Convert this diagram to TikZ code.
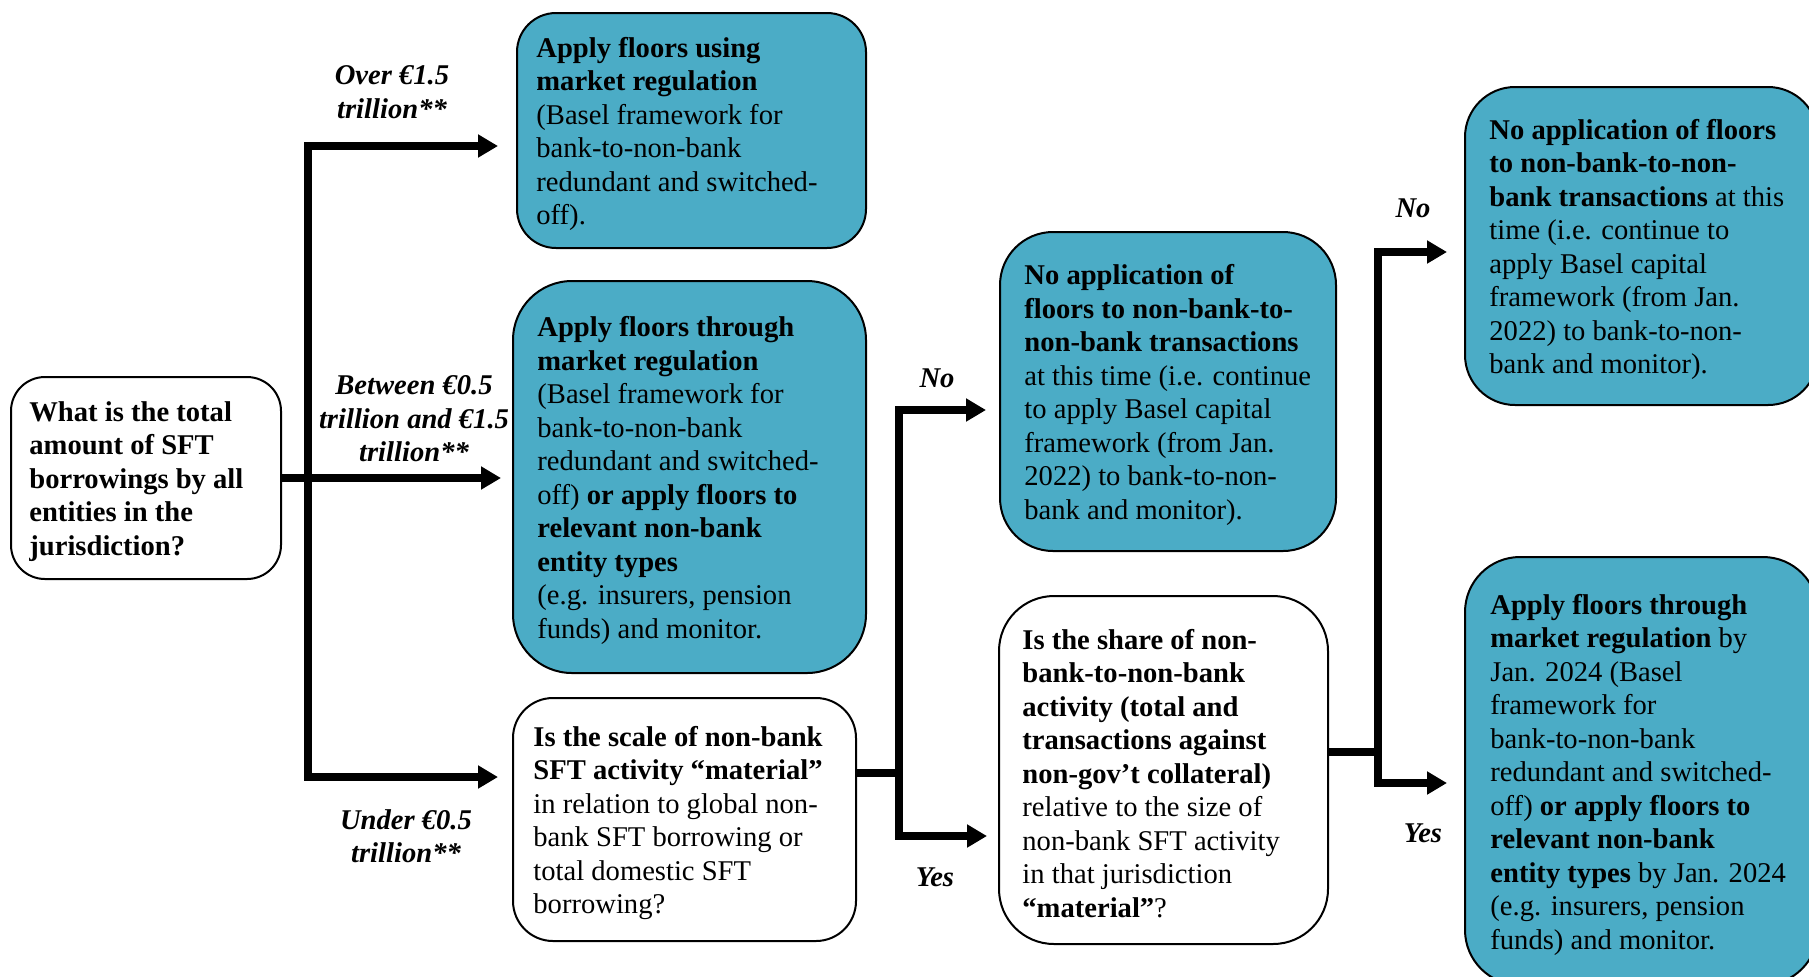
\documentclass[tikz,border=0pt]{standalone}
\usepackage{fontspec}
\setmainfont{Liberation Serif}
\usetikzlibrary{arrows.meta}
\definecolor{boxblue}{RGB}{75,172,198}
\begin{document}
\begin{tikzpicture}[x=0.5pt,y=-0.5pt,
  box/.style={draw=black, line width=1pt, rectangle, inner sep=0pt},
  bluebox/.style={box, fill=boxblue},
  whitebox/.style={box, fill=white},
  txt/.style={anchor=west, align=left, inner sep=0pt, yshift=-1.8pt, font=\fontsize{14.3}{16.75}\selectfont},
  lbl/.style={align=center, inner sep=0pt, font=\fontsize{14.3}{16.75}\selectfont\bfseries\itshape},
  conn/.style={line width=4pt, line join=miter, -{Triangle[length=10pt,width=11pt]}},
  plainline/.style={line width=4pt},
]
\useasboundingbox (0,0) rectangle (1809,976);
\fill[white] (0,0) rectangle (1809,976);
\clip (0,0) rectangle (1809,976);

% boxes
\node[whitebox, minimum width=135pt, minimum height=101pt, rounded corners=17pt] (a) at (146,478) {};
\node[bluebox, minimum width=174.5pt, minimum height=117.5pt, rounded corners=19.5pt] (b1) at (691.5,130.5) {};
\node[bluebox, minimum width=176.5pt, minimum height=196pt, rounded corners=29.5pt] (b2) at (689.5,477) {};
\node[whitebox, minimum width=171.5pt, minimum height=121.5pt, rounded corners=20pt] (b3) at (684.5,819.5) {};
\node[bluebox, minimum width=168pt, minimum height=159.5pt, rounded corners=26.5pt] (c1) at (1168,391.5) {};
\node[whitebox, minimum width=164.5pt, minimum height=174pt, rounded corners=27.5pt] (c2) at (1163.5,770) {};
\node[bluebox, minimum width=176.5pt, minimum height=159pt, rounded corners=25pt] (d1) at (1641.5,246) {};
\node[bluebox, minimum width=176.5pt, minimum height=214pt, rounded corners=27.5pt] (d2) at (1641.5,771) {};

% texts
\node[txt] (at) at ([xshift=9.5pt]a.west) {\textbf{What is the total}\\\textbf{amount of SFT}\\\textbf{borrowings by all}\\\textbf{entities in the}\\\textbf{jurisdiction?}};
\node[txt] (b1t) at ([xshift=10pt]b1.west) {\textbf{Apply floors using}\\\textbf{market regulation}\\(Basel framework for\\bank-to-non-bank\\redundant and switched-\\off).};
\node[txt] (b2t) at ([xshift=12.5pt]b2.west) {\textbf{Apply floors through}\\\textbf{market regulation}\\(Basel framework for\\bank-to-non-bank\\redundant and switched-\\off) \textbf{or apply floors to}\\\textbf{relevant non-bank}\\\textbf{entity types}\\(e.g. insurers, pension\\funds) and monitor.};
\node[txt] (b3t) at ([xshift=10.5pt]b3.west) {\textbf{Is the scale of non-bank}\\\textbf{SFT activity “material”}\\in relation to global non-\\bank SFT borrowing or\\total domestic SFT\\borrowing?};
\node[txt] (c1t) at ([xshift=12.5pt]c1.west) {\textbf{No application of}\\\textbf{floors to non-bank-to-}\\\textbf{non-bank transactions}\\at this time (i.e. continue\\to apply Basel capital\\framework (from Jan.\\2022) to bank-to-non-\\bank and monitor).};
\node[txt] (c2t) at ([xshift=12pt]c2.west) {\textbf{Is the share of non-}\\\textbf{bank-to-non-bank}\\\textbf{activity (total and}\\\textbf{transactions against}\\\textbf{non-gov’t collateral)}\\relative to the size of\\non-bank SFT activity\\in that jurisdiction\\\textbf{“material”}?};
\node[txt] (d1t) at ([xshift=12.5pt]d1.west) {\textbf{No application of floors}\\\textbf{to non-bank-to-non-}\\\textbf{bank transactions} at this\\time (i.e. continue to\\apply Basel capital\\framework (from Jan.\\2022) to bank-to-non-\\bank and monitor).};
\node[txt] (d2t) at ([xshift=13pt]d2.west) {\textbf{Apply floors through}\\\textbf{market regulation} by\\Jan. 2024 (Basel\\framework for\\bank-to-non-bank\\redundant and switched-\\off) \textbf{or apply floors to}\\\textbf{relevant non-bank}\\\textbf{entity types} by Jan. 2024\\(e.g. insurers, pension\\funds) and monitor.};

% junction coordinates
\coordinate (j1top) at (308,146);
\coordinate (j1bot) at (308,777);
\coordinate (j2) at (899,773);
\coordinate (j2top) at (899,410);
\coordinate (j2bot) at (899,836);
\coordinate (j3) at (1378,752);
\coordinate (j3top) at (1378,252);
\coordinate (j3bot) at (1378,783);

% connectors, first split
\draw[conn, shorten >=9pt] (j1bot) -- (j1top) -- (j1top -| b1.west);
\draw[conn, shorten >=7pt] ([xshift=-2pt]j1bot) -- (j1bot -| b3.west);
\draw[conn, shorten >=5.5pt] (a.east) -- (a.east -| b2.west);

% second split
\draw[plainline] (b3.east |- j2) -- ([xshift=2pt]j2);
\draw[conn, shorten >=6.5pt] (j2bot) -- (j2top) -- (j2top -| c1.west);
\draw[conn, shorten >=5.5pt] ([xshift=-2pt]j2bot) -- (j2bot -| c2.west);

% third split
\draw[plainline] (c2.east |- j3) -- ([xshift=2pt]j3);
\draw[conn, shorten >=8.5pt] (j3bot) -- (j3top) -- (j3top -| d1.west);
\draw[conn, shorten >=8.5pt] ([xshift=-2pt]j3bot) -- (j3bot -| d2.west);

% labels
\node[lbl] (l1) at (392,92) {Over €1.5\\trillion**};
\node[lbl] (l2) at (414,419) {Between €0.5\\trillion and €1.5\\trillion**};
\node[lbl] (l3) at (406,836) {Under €0.5\\trillion**};
\node[lbl] (l4) at (937,378) {No};
\node[lbl] (l5) at (935,877) {Yes};
\node[lbl] (l6) at (1413,208) {No};
\node[lbl] (l7) at (1423,833) {Yes};
\end{tikzpicture}
\end{document}
